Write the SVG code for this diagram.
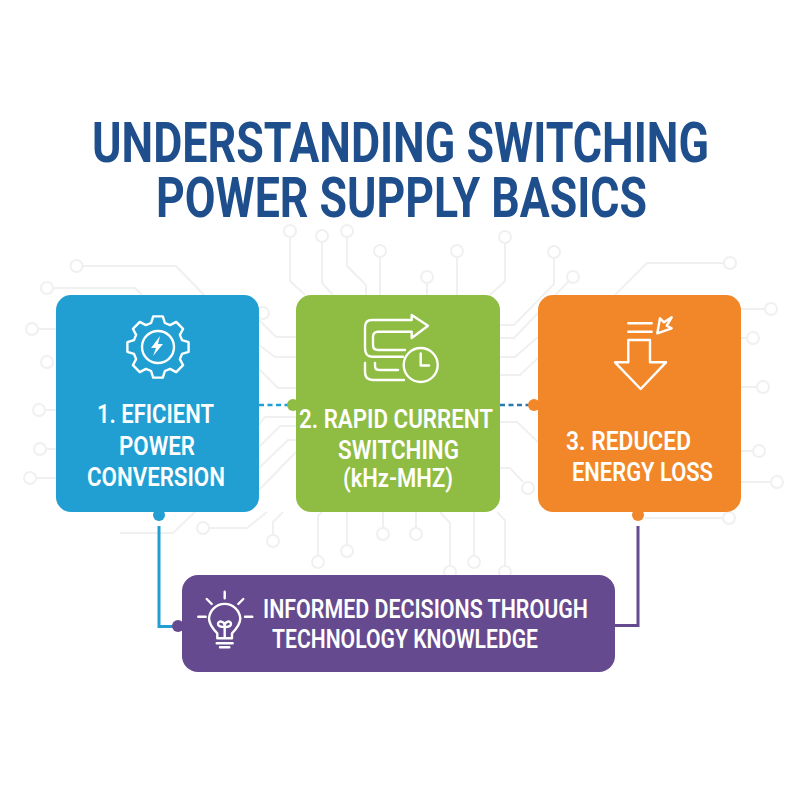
<svg xmlns="http://www.w3.org/2000/svg" width="800" height="800" viewBox="0 0 800 800">
<style>
.t{font-family:"Roboto","Liberation Sans",sans-serif;font-weight:700}
.title{font-size:56px;fill:#1f4e8c}
.lab{font-size:25.5px;fill:#fff;font-weight:600}
.trace{fill:none;stroke:#f0f0f0;stroke-width:2}
.trace circle{fill:#fff}
.ic{fill:none;stroke:#fff;stroke-width:2.400;stroke-linejoin:round;stroke-linecap:round}
</style>
<rect width="800" height="800" fill="#fff"/>
<g id="title" class="t">
<text class="t title" x="92" y="162" textLength="617" lengthAdjust="spacingAndGlyphs">UNDERSTANDING SWITCHING</text>
<text class="t title" x="156" y="217" textLength="491" lengthAdjust="spacingAndGlyphs">POWER SUPPLY BASICS</text>
</g>
<g id="traces" class="trace">
<path d="M82 266H176L204 295M53 288H135L142 295"/>
<circle cx="76.500" cy="266" r="6"/><circle cx="47" cy="288" r="6"/><circle cx="263" cy="313" r="6"/>
<path d="M290 237V281L305 295M322 242V283L333 295M347 237V266L366 285V295M380 257V295M427 283V295M457 257V295M505 243V281L490 295"/>
<circle cx="290" cy="231" r="6"/><circle cx="322" cy="236" r="6"/><circle cx="347" cy="231" r="6"/><circle cx="380" cy="251" r="6"/><circle cx="427" cy="277" r="6"/><circle cx="457" cy="251" r="6"/><circle cx="505" cy="237" r="6"/>
<path d="M554 258V284L514 325H500M569 281L514 338H500M538 337L515 357H500M538 358L520 375H500M500 422H517L538 442M500 468H510L523 482"/>
<circle cx="554" cy="252" r="6"/><circle cx="573" cy="277" r="6"/><circle cx="528" cy="488" r="6"/>
<path d="M724 263H647L615 295M741 309H765M741 338H747M741 387H757M741 451H753M741 482H771M645 518H723"/>
<circle cx="730" cy="263" r="6"/><circle cx="771" cy="309" r="6"/><circle cx="753" cy="338" r="6"/><circle cx="763" cy="387" r="6"/><circle cx="759" cy="451" r="6"/><circle cx="777" cy="482" r="6"/><circle cx="729" cy="518" r="6"/>
<path d="M38 329H56M45 410H56M46 449H56M36 478H56"/>
<circle cx="32" cy="329" r="6"/><circle cx="47" cy="362" r="6"/><circle cx="39" cy="410" r="6"/><circle cx="40" cy="449" r="6"/><circle cx="30" cy="478" r="6"/>
<path d="M259 320L276 337H296M259 345L275 357H296M259 369L278 388H296M259 425L265 417H296M259 447L280 426H296M259 468L288 440H296M259 490L296 452"/>
<path d="M120 533H173L195 512M209 528H247L267 512M273 535V522L283 512M318 556V516L322 512M347 545V512M383 528V512M416 528V512M450 566V523L440 512M474 556V512M505 566V520L497 512"/>
<circle cx="203" cy="528" r="6"/><circle cx="273" cy="541" r="6"/><circle cx="318" cy="562" r="6"/><circle cx="347" cy="551" r="6"/><circle cx="383" cy="534" r="6"/><circle cx="416" cy="534" r="6"/><circle cx="450" cy="572" r="6"/><circle cx="474" cy="562" r="6"/><circle cx="505" cy="572" r="6"/>
</g>
<g id="connectors" fill="none" stroke-width="2.500">
<path d="M259 405H288" stroke="#229fd2" stroke-dasharray="5 3.500"/>
<path d="M500 405H530" stroke="#2a7ab0" stroke-dasharray="5 3.500"/>
<path d="M159 526V626.500H178" stroke="#229fd2" stroke-width="3"/>
<path d="M638 526V625.500H615" stroke="#654a90" stroke-width="3"/>
<circle cx="293" cy="405" r="6" fill="#8fbc42" stroke="none"/>
<circle cx="534" cy="405" r="6" fill="#f28729" stroke="none"/>
<circle cx="159" cy="515" r="6" fill="#229fd2" stroke="none"/>
<circle cx="638" cy="515" r="6" fill="#f28729" stroke="none"/>
<circle cx="178" cy="626" r="6" fill="#654a90" stroke="none"/>
</g>
<g id="node1">
<rect x="56" y="295" width="203" height="217" rx="15" fill="#229fd2"/>
<path class="ic" transform="translate(158 347)" d="M24 -6.900L30.600 -4.800V4.800L24 6.900L21.900 12.100L25.100 18.200L18.200 25.100L12.100 21.900L6.900 24L4.800 30.600H-4.800L-6.900 24L-12.100 21.900L-18.200 25.100L-25.100 18.200L-21.900 12.100L-24 6.900L-30.600 4.800V-4.800L-24 -6.900L-21.900 -12.100L-25.100 -18.200L-18.200 -25.100L-12.100 -21.900L-6.900 -24L-4.800 -30.600H4.800L6.900 -24L12.100 -21.900L18.200 -25.100L25.100 -18.200L21.900 -12.100Z"/>
<circle class="ic" cx="158" cy="347" r="16"/>
<path transform="translate(158 347)" fill="#fff" d="M2 -11L-7 1H-2L-5 9L5 -3H0Z"/>
<text class="t lab" x="97" y="423" textLength="117" lengthAdjust="spacingAndGlyphs">1. EFICIENT</text>
<text class="t lab" x="119" y="455" textLength="76" lengthAdjust="spacingAndGlyphs">POWER</text>
<text class="t lab" x="87" y="486" textLength="138" lengthAdjust="spacingAndGlyphs">CONVERSION</text>
</g>
<g id="node2">
<rect x="296" y="295" width="204" height="217" rx="15" fill="#8fbc42"/>
<path class="ic" d="M411.700 320H372Q365 320 365 327V348Q365 356.700 372 356.700H403M411.700 331.700H378Q373 331.700 373 337V345Q373 350 378 350H405M411.700 320V315L428 325.700L411.700 338V331.700M365 363V372Q365 380 373 380H404M375 363V366Q375 370 379 370H398"/>
<circle class="ic" cx="420.700" cy="365" r="17"/>
<path class="ic" d="M420.700 353.500V365.500H429"/>
<text class="t lab" x="299" y="428" textLength="194" lengthAdjust="spacingAndGlyphs">2. RAPID CURRENT</text>
<text class="t lab" x="338" y="459" textLength="121" lengthAdjust="spacingAndGlyphs">SWITCHING</text>
<text class="t lab" x="343" y="487" textLength="110" lengthAdjust="spacingAndGlyphs">(kHz-MHZ)</text>
</g>
<g id="node3">
<rect x="538" y="295" width="203" height="217" rx="15" fill="#f28729"/>
<path class="ic" d="M628.300 323.300H651.700M628.300 331.700H651.700M628.300 340H650V362.300H666L640.700 389L615 362.300H628.300ZM657.300 333.300L660 318.300L664 322.300L671.700 317.300L666.700 325.700L671.700 328.300Z"/>
<text class="t lab" x="566" y="450" textLength="125" lengthAdjust="spacingAndGlyphs">3. REDUCED</text>
<text class="t lab" x="572" y="481" textLength="141" lengthAdjust="spacingAndGlyphs">ENERGY LOSS</text>
</g>
<g id="node4">
<rect x="182" y="575" width="433" height="97" rx="16" fill="#654a90"/>
<path class="ic" d="M217.300 638.300V633.300Q209 625 209 618.300A15.700 15.700 0 0 1 240.300 618.300Q240.300 625 232 633.300V638.300ZM216.700 643.300H232.700M220 647.300H229.300M224.700 591.700V598.300M206.700 599L211.700 604M243.300 599L238.300 604M198.300 616.700H205.700M245 616.700H252.300M224.700 638V626C224.700 621 218 620 218 624C218 627 224.700 627 224.700 627C224.700 627 231 627 231 624C231 620 224.700 621 224.700 626"/>
<text class="t lab" x="263" y="618" textLength="325" lengthAdjust="spacingAndGlyphs">INFORMED DECISIONS THROUGH</text>
<text class="t lab" x="272" y="648" textLength="266" lengthAdjust="spacingAndGlyphs">TECHNOLOGY KNOWLEDGE</text>
</g>
</svg>
